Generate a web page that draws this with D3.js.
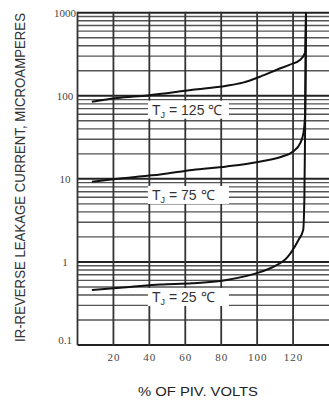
<!DOCTYPE html>
<html>
<head>
<meta charset="utf-8">
<script src="https://cdn.jsdelivr.net/npm/d3@7"></script>
<style>
  body { margin: 0; background: #fff; }
  svg { display: block; }
</style>
</head>
<body>
<div id="chart"></div>
<script>
// % of PIV volts vs leakage current (microamperes)
const xTicks = [20, 40, 60, 80, 100, 120];
const yTicks = [0.1, 1, 10, 100, 1000];

const curve125 = [
  [8, 85], [22, 94], [39, 101], [64, 118], [83, 132], [92, 144],
  [102, 171], [111, 206], [118, 236], [124, 272], [126.7, 330], [127.2, 1000]
];
const curve75 = [
  [8, 9.2], [20, 9.9], [39, 10.9], [46, 11.3], [64, 12.8], [83, 14.1],
  [102, 16.2], [114, 18.6], [120, 21.3], [124, 26.9], [125.8, 36],
  [126.7, 60], [127, 250], [127.2, 1000]
];
const curve25 = [
  [8, 0.46], [29, 0.50], [46, 0.536], [64, 0.553], [83, 0.607],
  [102, 0.76], [109, 0.87], [117, 1.15], [123, 1.84], [125.6, 2.4],
  [126.3, 6], [126.7, 40], [127, 250], [127.2, 1000]
];
const temps = ["125", "75", "25"];

const W = 329, H = 406;
const mLeft = 77.5, mTop = 12.7, mBottom = 345;

const svg = d3.select("#chart")
  .append("svg")
    .attr("width", W)
    .attr("height", H);

const x = d3.scaleLinear()
  .domain([0, 140])
  .range([mLeft, W]);

const y = d3.scaleLog()
  .domain([0.1, 1000])
  .range([mBottom, mTop]);

const isDecade = v => Math.abs(Math.log10(v) - Math.round(Math.log10(v))) < 1e-6;

// horizontal grid (all log subdivisions)
svg.append("g")
  .selectAll("line")
  .data(y.ticks())
  .join("line")
    .attr("x1", x(0))
    .attr("x2", W)
    .attr("y1", d => y(d))
    .attr("y2", d => y(d))
    .attr("stroke", d => isDecade(d) ? "#222" : "#555")
    .attr("stroke-width", d => isDecade(d) ? 2 : 1.4);

// vertical grid
svg.append("g")
  .selectAll("line")
  .data([0].concat(xTicks))
  .join("line")
    .attr("x1", d => x(d))
    .attr("x2", d => x(d))
    .attr("y1", y(1000) - 1)
    .attr("y2", y(0.1))
    .attr("stroke", "#333")
    .attr("stroke-width", 1.8);

// label boxes first, then curves on top
const labelSpots = [
  {t: temps[0], v: 68},
  {t: temps[1], v: 6.4},
  {t: temps[2], v: 0.378}
];

labelSpots.forEach(l => {
  svg.append("rect")
    .attr("x", x(39.2))
    .attr("y", y(l.v) - 9)
    .attr("width", 81)
    .attr("height", 18)
    .attr("fill", "#fff");
});

const line = d3.line()
  .x(d => x(d[0]))
  .y(d => y(d[1]))
  .curve(d3.curveMonotoneX);

[curve125, curve75, curve25].forEach(c => {
  svg.append("path")
    .datum(c)
    .attr("fill", "none")
    .attr("stroke", "#111")
    .attr("stroke-width", 2)
    .attr("d", line);
});

labelSpots.forEach(l => {
  const t = svg.append("text")
    .attr("x", x(41.5))
    .attr("y", y(l.v) + 5)
    .style("font-family", "'Liberation Sans', Arial, sans-serif")
    .style("font-size", "14px")
    .attr("fill", "#333");
  t.append("tspan").text("T");
  t.append("tspan").attr("dy", 3).style("font-size", "9px").text("J");
  t.append("tspan").attr("dy", -3).text(" = " + l.t + " \u2103");
});

// y axis labels
const yAxis = svg.append("g")
  .attr("transform", `translate(${mLeft},0)`)
  .call(d3.axisLeft(y).tickValues(yTicks).tickSize(0).tickFormat(d => String(d)));
yAxis.select(".domain").remove();
yAxis.selectAll("text")
  .attr("x", -12.5)
  .attr("dy", d => d === 0.1 ? "-0.15em" : "0.32em")
  .attr("text-anchor", "middle")
  .style("font-family", "'Liberation Serif', 'Times New Roman', serif")
  .style("font-size", "11px")
  .attr("fill", "#444");

// x axis labels
const xAxis = svg.append("g")
  .attr("transform", `translate(0,${mBottom})`)
  .call(d3.axisBottom(x).tickValues(xTicks).tickSize(0));
xAxis.select(".domain").remove();
xAxis.selectAll("text")
  .attr("y", 8)
  .style("font-family", "'Liberation Serif', 'Times New Roman', serif")
  .style("font-size", "11px")
  .style("letter-spacing", "1px")
  .attr("fill", "#444");

// axis titles
svg.append("text")
  .attr("x", 198)
  .attr("y", 396)
  .attr("text-anchor", "middle")
  .attr("textLength", 120)
  .attr("lengthAdjust", "spacingAndGlyphs")
  .style("font-family", "'Liberation Sans', Arial, sans-serif")
  .style("font-size", "13.5px")
  .attr("fill", "#222")
  .text("% OF PIV. VOLTS");

svg.append("text")
  .attr("transform", "translate(25,177.5) rotate(-90)")
  .attr("text-anchor", "middle")
  .attr("textLength", 329)
  .attr("lengthAdjust", "spacingAndGlyphs")
  .style("font-family", "'Liberation Sans', Arial, sans-serif")
  .style("font-size", "14px")
  .attr("fill", "#333")
  .text("IR-REVERSE LEAKAGE CURRENT, MICROAMPERES");
</script>
</body>
</html>
